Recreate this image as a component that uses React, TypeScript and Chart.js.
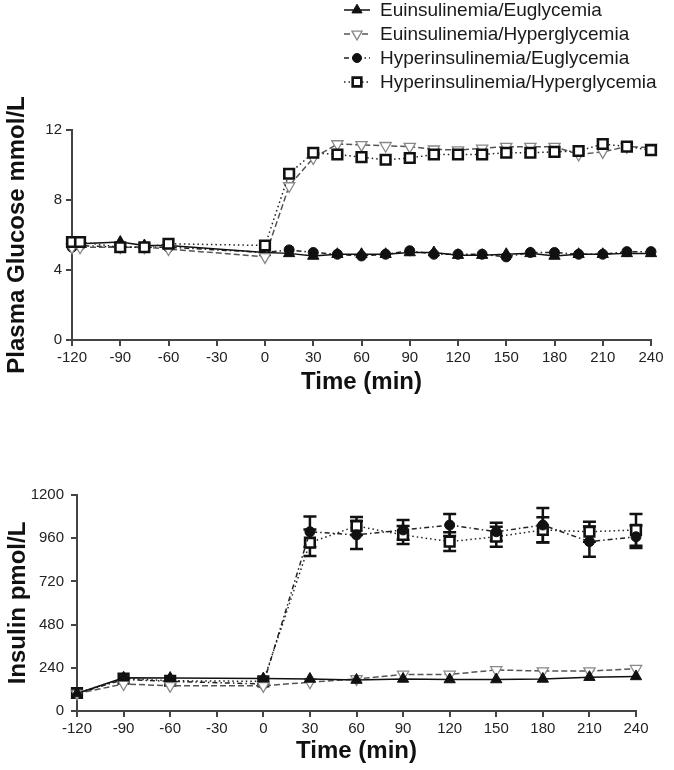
import React, { useEffect, useRef } from 'react';
import { Chart, registerables } from 'chart.js';
import { drawPoint } from 'chart.js/helpers';

Chart.register(...registerables);

const FONT = '"Liberation Sans", Arial, Helvetica, sans-serif';

const seriesNames = [
  'Euinsulinemia/Euglycemia',
  'Euinsulinemia/Hyperglycemia',
  'Hyperinsulinemia/Euglycemia',
  'Hyperinsulinemia/Hyperglycemia',
];

// Time axis tick range
const timeMin = -120;
const timeMax = 240;
const timeStep = 30;

// Plasma glucose (mmol/L)
const glucoseTimes = [-120, -115, -90, -75, -60, 0, 15, 30, 45, 60, 75, 90, 105, 120, 135, 150, 165, 180, 195, 210, 225, 240];
const glucoseEuEu = [5.5, 5.5, 5.6, 5.4, 5.4, 5.0, 4.95, 4.8, 4.9, 4.9, 4.9, 5.0, 5.0, 4.85, 4.85, 4.9, 4.95, 4.8, 4.9, 4.9, 4.95, 4.95];
const glucoseEuHyper = [5.3, 5.3, 5.3, 5.3, 5.2, 4.75, 8.8, 10.4, 11.2, 11.15, 11.1, 11.05, 10.9, 10.85, 10.95, 11.05, 11.05, 11.05, 10.6, 10.75, 11.05, 11.0];
const glucoseHyperEu = [5.3, 5.4, 5.3, 5.3, 5.3, 5.0, 5.15, 5.0, 4.9, 4.8, 4.9, 5.1, 4.9, 4.9, 4.9, 4.75, 5.0, 5.0, 4.9, 4.9, 5.05, 5.05];
const glucoseHyperHyper = [5.6, 5.6, 5.3, 5.3, 5.5, 5.4, 9.5, 10.7, 10.6, 10.45, 10.3, 10.4, 10.6, 10.6, 10.6, 10.7, 10.7, 10.75, 10.8, 11.2, 11.05, 10.85];
const glucoseMax = 12;
const glucoseStep = 4;

// Insulin (pmol/L)
const insulinTimes = [-120, -90, -60, 0, 30, 60, 90, 120, 150, 180, 210, 240];
const insulinEuEu = [97, 185, 183, 180, 178, 172, 178, 175, 175, 178, 188, 192];
const insulinEuHyper = [97, 150, 140, 140, 160, 178, 203, 203, 228, 222, 222, 235];
const insulinHyperEu = [97, 175, 165, 150, 996, 978, 1006, 1033, 996, 1033, 941, 968];
const insulinHyperHyper = [100, 180, 168, 165, 935, 1028, 978, 941, 968, 1006, 996, 1006];
const insulinHyperEuSem = [0, 0, 0, 0, 85, 78, 55, 61, 50, 95, 84, 63];
const insulinHyperHyperSem = [0, 0, 0, 0, 74, 50, 50, 52, 55, 70, 56, 88];
const insulinMax = 1200;
const insulinStep = 240;

const seriesStyles = [
  { line: '#111', dash: [] as number[], style: 'triangle', rot: 0, bg: '#111', border: '#111', bw: 1, r: 6.5 },
  { line: '#555', dash: [6, 3], style: 'triangle', rot: 180, bg: '#fff', border: '#888', bw: 1.3, r: 6.5 },
  { line: '#222', dash: [5, 3, 1.5, 3], style: 'circle', rot: 0, bg: '#111', border: '#111', bw: 1, r: 5 },
  { line: '#222', dash: [1.5, 3], style: 'rect', rot: 0, bg: '#fff', border: '#111', bw: 2.6, r: 6.8 },
];

function makeDatasets(times: number[], series: number[][], order: number[]) {
  return series.map((vals, i) => {
    const s = seriesStyles[i];
    return {
      label: seriesNames[i],
      data: times.map((t, j) => ({ x: t, y: vals[j] })),
      borderColor: s.line,
      borderWidth: 1.5,
      borderDash: s.dash,
      pointStyle: s.style,
      pointRotation: s.rot,
      pointRadius: s.r,
      pointHoverRadius: s.r,
      pointBackgroundColor: s.bg,
      pointBorderColor: s.border,
      pointBorderWidth: s.bw,
      tension: 0,
      fill: false,
      clip: false as any,
      order: order[i],
    };
  });
}

const legendPlugin = {
  id: 'columnLegend',
  afterDraw(chart: any) {
    const ctx = chart.ctx;
    seriesNames.forEach((name, i) => {
      const s = seriesStyles[i];
      const y = 10 + i * 24;
      ctx.save();
      ctx.lineWidth = 1.5;
      ctx.strokeStyle = s.line;
      ctx.setLineDash(s.dash);
      ctx.beginPath();
      ctx.moveTo(344, y);
      ctx.lineTo(370, y);
      ctx.stroke();
      ctx.setLineDash([]);
      ctx.fillStyle = s.bg;
      ctx.strokeStyle = s.border;
      ctx.lineWidth = s.bw;
      drawPoint(ctx, { pointStyle: s.style as any, rotation: s.rot, radius: s.r * 0.9, borderWidth: s.bw }, 357, y);
      ctx.fillStyle = '#1a1a1a';
      ctx.font = `19px ${FONT}`;
      ctx.textBaseline = 'middle';
      ctx.textAlign = 'left';
      ctx.fillText(name, 380, y + 1);
      ctx.restore();
    });
  },
};

const errorBarPlugin = {
  id: 'errorBars',
  beforeDatasetsDraw(chart: any) {
    const { ctx } = chart;
    const xs = chart.scales.x;
    const ys = chart.scales.y;
    const bars = [
      { vals: insulinHyperEu, sem: insulinHyperEuSem },
      { vals: insulinHyperHyper, sem: insulinHyperHyperSem },
    ];
    ctx.save();
    ctx.strokeStyle = '#111';
    ctx.lineWidth = 2.5;
    bars.forEach(({ vals, sem }) => {
      insulinTimes.forEach((t, j) => {
        const e = sem[j];
        if (!e) return;
        const px = xs.getPixelForValue(t);
        const top = ys.getPixelForValue(vals[j] + e);
        const bot = ys.getPixelForValue(vals[j] - e);
        ctx.beginPath();
        ctx.moveTo(px, top);
        ctx.lineTo(px, bot);
        ctx.moveTo(px - 6.5, top);
        ctx.lineTo(px + 6.5, top);
        ctx.moveTo(px - 6.5, bot);
        ctx.lineTo(px + 6.5, bot);
        ctx.stroke();
      });
    });
    ctx.restore();
  },
};

function axisOptions(opts: {
  yMax: number; yStep: number; yTitle: string; yWidth: number; xHeight: number;
  xTitlePad: number; yTitlePad: number; yTickPad: number;
}) {
  const tickFont = { family: FONT, size: 15 };
  const titleFont = { family: FONT, size: 24, weight: 'bold' as const };
  const grid = { drawOnChartArea: false, drawTicks: true, tickLength: 6, tickColor: '#444', lineWidth: 2 };
  const border = { display: true, color: '#444', width: 2 };
  const plain = (v: any) => String(v);
  return {
    x: {
      type: 'linear' as const,
      min: timeMin,
      max: timeMax,
      ticks: { stepSize: timeStep, font: tickFont, color: '#222', padding: 3, maxRotation: 0, autoSkip: false, callback: plain },
      grid,
      border,
      title: { display: true, text: 'Time (min)', font: titleFont, color: '#111', padding: { top: 0, bottom: opts.xTitlePad } },
      afterFit: (s: any) => { s.height = opts.xHeight; },
    },
    y: {
      type: 'linear' as const,
      min: 0,
      max: opts.yMax,
      ticks: { stepSize: opts.yStep, font: tickFont, color: '#222', padding: opts.yTickPad, callback: plain },
      grid,
      border,
      title: { display: true, text: opts.yTitle, font: titleFont, color: '#111', padding: { top: opts.yTitlePad, bottom: 0 } },
      afterFit: (s: any) => { s.width = opts.yWidth; },
    },
  };
}

export default function App() {
  const topRef = useRef<HTMLCanvasElement | null>(null);
  const botRef = useRef<HTMLCanvasElement | null>(null);

  useEffect(() => {
    const common = {
      responsive: false,
      animation: false as const,
      devicePixelRatio: 1,
      events: [] as any[],
    };
    const top = new Chart(topRef.current!, {
      type: 'line',
      data: {
        datasets: makeDatasets(glucoseTimes, [glucoseEuEu, glucoseEuHyper, glucoseHyperEu, glucoseHyperHyper], [2, 1, 3, 0]) as any,
      },
      options: {
        ...common,
        layout: { padding: { top: 130, left: 0, right: 23, bottom: 0 } },
        plugins: { legend: { display: false }, tooltip: { enabled: false } },
        scales: axisOptions({
          yMax: glucoseMax, yStep: glucoseStep, yTitle: 'Plasma Glucose mmol/L',
          yWidth: 72, xHeight: 60, xTitlePad: 3, yTitlePad: 3, yTickPad: 4,
        }) as any,
      },
      plugins: [legendPlugin],
    });
    const bot = new Chart(botRef.current!, {
      type: 'line',
      data: {
        datasets: makeDatasets(insulinTimes, [insulinEuEu, insulinEuHyper, insulinHyperEu, insulinHyperHyper], [0, 1, 2, 3]) as any,
      },
      options: {
        ...common,
        layout: { padding: { top: 95, left: 0, right: 38, bottom: 0 } },
        plugins: { legend: { display: false }, tooltip: { enabled: false } },
        scales: axisOptions({
          yMax: insulinMax, yStep: insulinStep, yTitle: 'Insulin pmol/L',
          yWidth: 77, xHeight: 59, xTitlePad: 4, yTitlePad: 4, yTickPad: 7,
        }) as any,
      },
      plugins: [errorBarPlugin],
    });
    return () => {
      top.destroy();
      bot.destroy();
    };
  }, []);

  return (
    <div style={{ position: 'absolute', left: 0, top: 0, width: 674, height: 770, background: '#fff' }}>
      <canvas ref={topRef} width={674} height={400} style={{ position: 'absolute', left: 0, top: 0, display: 'block' }} />
      <canvas ref={botRef} width={674} height={370} style={{ position: 'absolute', left: 0, top: 400, display: 'block' }} />
    </div>
  );
}
